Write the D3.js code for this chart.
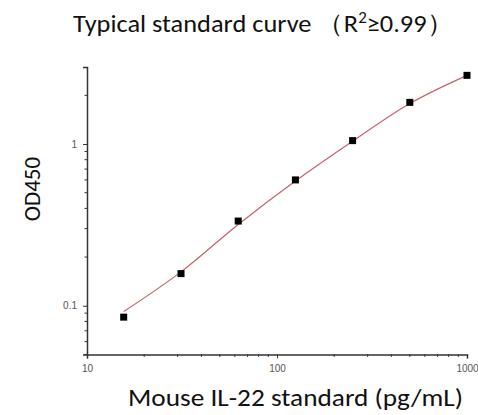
<!DOCTYPE html>
<html>
<head>
<meta charset="utf-8">
<script src="https://cdn.jsdelivr.net/npm/d3@7"></script>
<style>
  body { margin: 0; background: #fff; }
  svg { display: block; }
</style>
</head>
<body>
<div id="chart"></div>
<script>
// standard concentrations (pg/mL) and measured OD450
var conc = [15.6, 31.25, 62.5, 125, 250, 500, 1000];
var od = [0.085, 0.158, 0.334, 0.60, 1.05, 1.81, 2.66];
// fitted curve
var fitConc = [15.6, 31.25, 62.5, 125, 250, 500, 1000];
var fitOd = [0.092, 0.162, 0.318, 0.590, 1.040, 1.780, 2.660];
var xTickLabels = [10, 100, 1000];
var yTickLabels = [0.1, 1];

var w = 478, h = 415;

var svg = d3.select("#chart").append("svg")
  .attr("width", w)
  .attr("height", h);

var xScale = d3.scaleLog().domain([10, 1000]).range([87, 467]);
var yScale = d3.scaleLog().domain([0.05, 3]).range([354.4, 66.9]);

var axisColor = "#333";

// x axis
var xMinor = xScale.ticks().filter(function(d) { return xTickLabels.indexOf(d) < 0; });
var xAxis = d3.axisBottom(xScale).tickValues(xTickLabels).tickSize(4).tickFormat(d3.format("d"));
var gx = svg.append("g")
  .attr("transform", "translate(0," + yScale(0.05) + ")")
  .call(xAxis);
gx.selectAll(".minor").data(xMinor).enter().append("line")
  .attr("class", "minor")
  .attr("x1", function(d) { return xScale(d); })
  .attr("x2", function(d) { return xScale(d); })
  .attr("y1", 0).attr("y2", 2.5)
  .attr("stroke", axisColor);

// y axis
var yMinor = yScale.ticks().filter(function(d) { return yTickLabels.indexOf(d) < 0 && d < 3; });
var yAxis = d3.axisLeft(yScale).tickValues(yTickLabels).tickSize(4).tickPadding(6).tickFormat(function(d) { return d; });
var gy = svg.append("g")
  .attr("transform", "translate(" + xScale(10) + ",0)")
  .call(yAxis);
gy.selectAll(".minor").data(yMinor).enter().append("line")
  .attr("class", "minor")
  .attr("y1", function(d) { return yScale(d); })
  .attr("y2", function(d) { return yScale(d); })
  .attr("x1", 0).attr("x2", -2.5)
  .attr("stroke", axisColor);

svg.selectAll(".domain").attr("stroke", axisColor).attr("stroke-width", 1.5);
svg.selectAll(".tick line").attr("stroke", axisColor);
svg.selectAll(".tick text")
  .attr("fill", "#555")
  .style("font-family", "Liberation Sans, Arial, sans-serif")
  .style("font-size", "10px");
gx.selectAll(".tick text").attr("dy", "1.1em");

// fitted curve
var line = d3.line()
  .x(function(d) { return xScale(d[0]); })
  .y(function(d) { return yScale(d[1]); })
  .curve(d3.curveMonotoneX);
svg.append("path")
  .datum(d3.zip(fitConc, fitOd))
  .attr("d", line)
  .attr("fill", "none")
  .attr("stroke", "#c8606a")
  .attr("stroke-width", 1.2);

// points
var s = 7;
svg.selectAll("rect.pt")
  .data(d3.zip(conc, od))
  .enter().append("rect")
  .attr("class", "pt")
  .attr("x", function(d) { return xScale(d[0]) - s / 2; })
  .attr("y", function(d) { return yScale(d[1]) - s / 2; })
  .attr("width", s).attr("height", s)
  .attr("fill", "#000");

var font = "Carlito, Calibri, Lato, sans-serif";

// title
var title = svg.append("text")
  .attr("x", 73).attr("y", 32)
  .attr("textLength", 380)
  .attr("lengthAdjust", "spacingAndGlyphs")
  .style("font-family", font)
  .style("font-size", "25px")
  .attr("fill", "#111");
title.append("tspan").text("Typical standard curve （R");
title.append("tspan").attr("dy", -9).style("font-size", "16px").text("2");
title.append("tspan").attr("dy", 9).text("≥0.99）");

// axis labels
svg.append("text")
  .attr("transform", "translate(40,189) rotate(-90)")
  .attr("text-anchor", "middle")
  .style("font-family", font)
  .style("font-size", "23px")
  .attr("fill", "#111")
  .text("OD450");

svg.append("text")
  .attr("x", 128).attr("y", 406)
  .attr("textLength", 335)
  .attr("lengthAdjust", "spacingAndGlyphs")
  .style("font-family", font)
  .style("font-size", "25px")
  .attr("fill", "#111")
  .text("Mouse IL-22 standard (pg/mL)");
</script>
</body>
</html>
